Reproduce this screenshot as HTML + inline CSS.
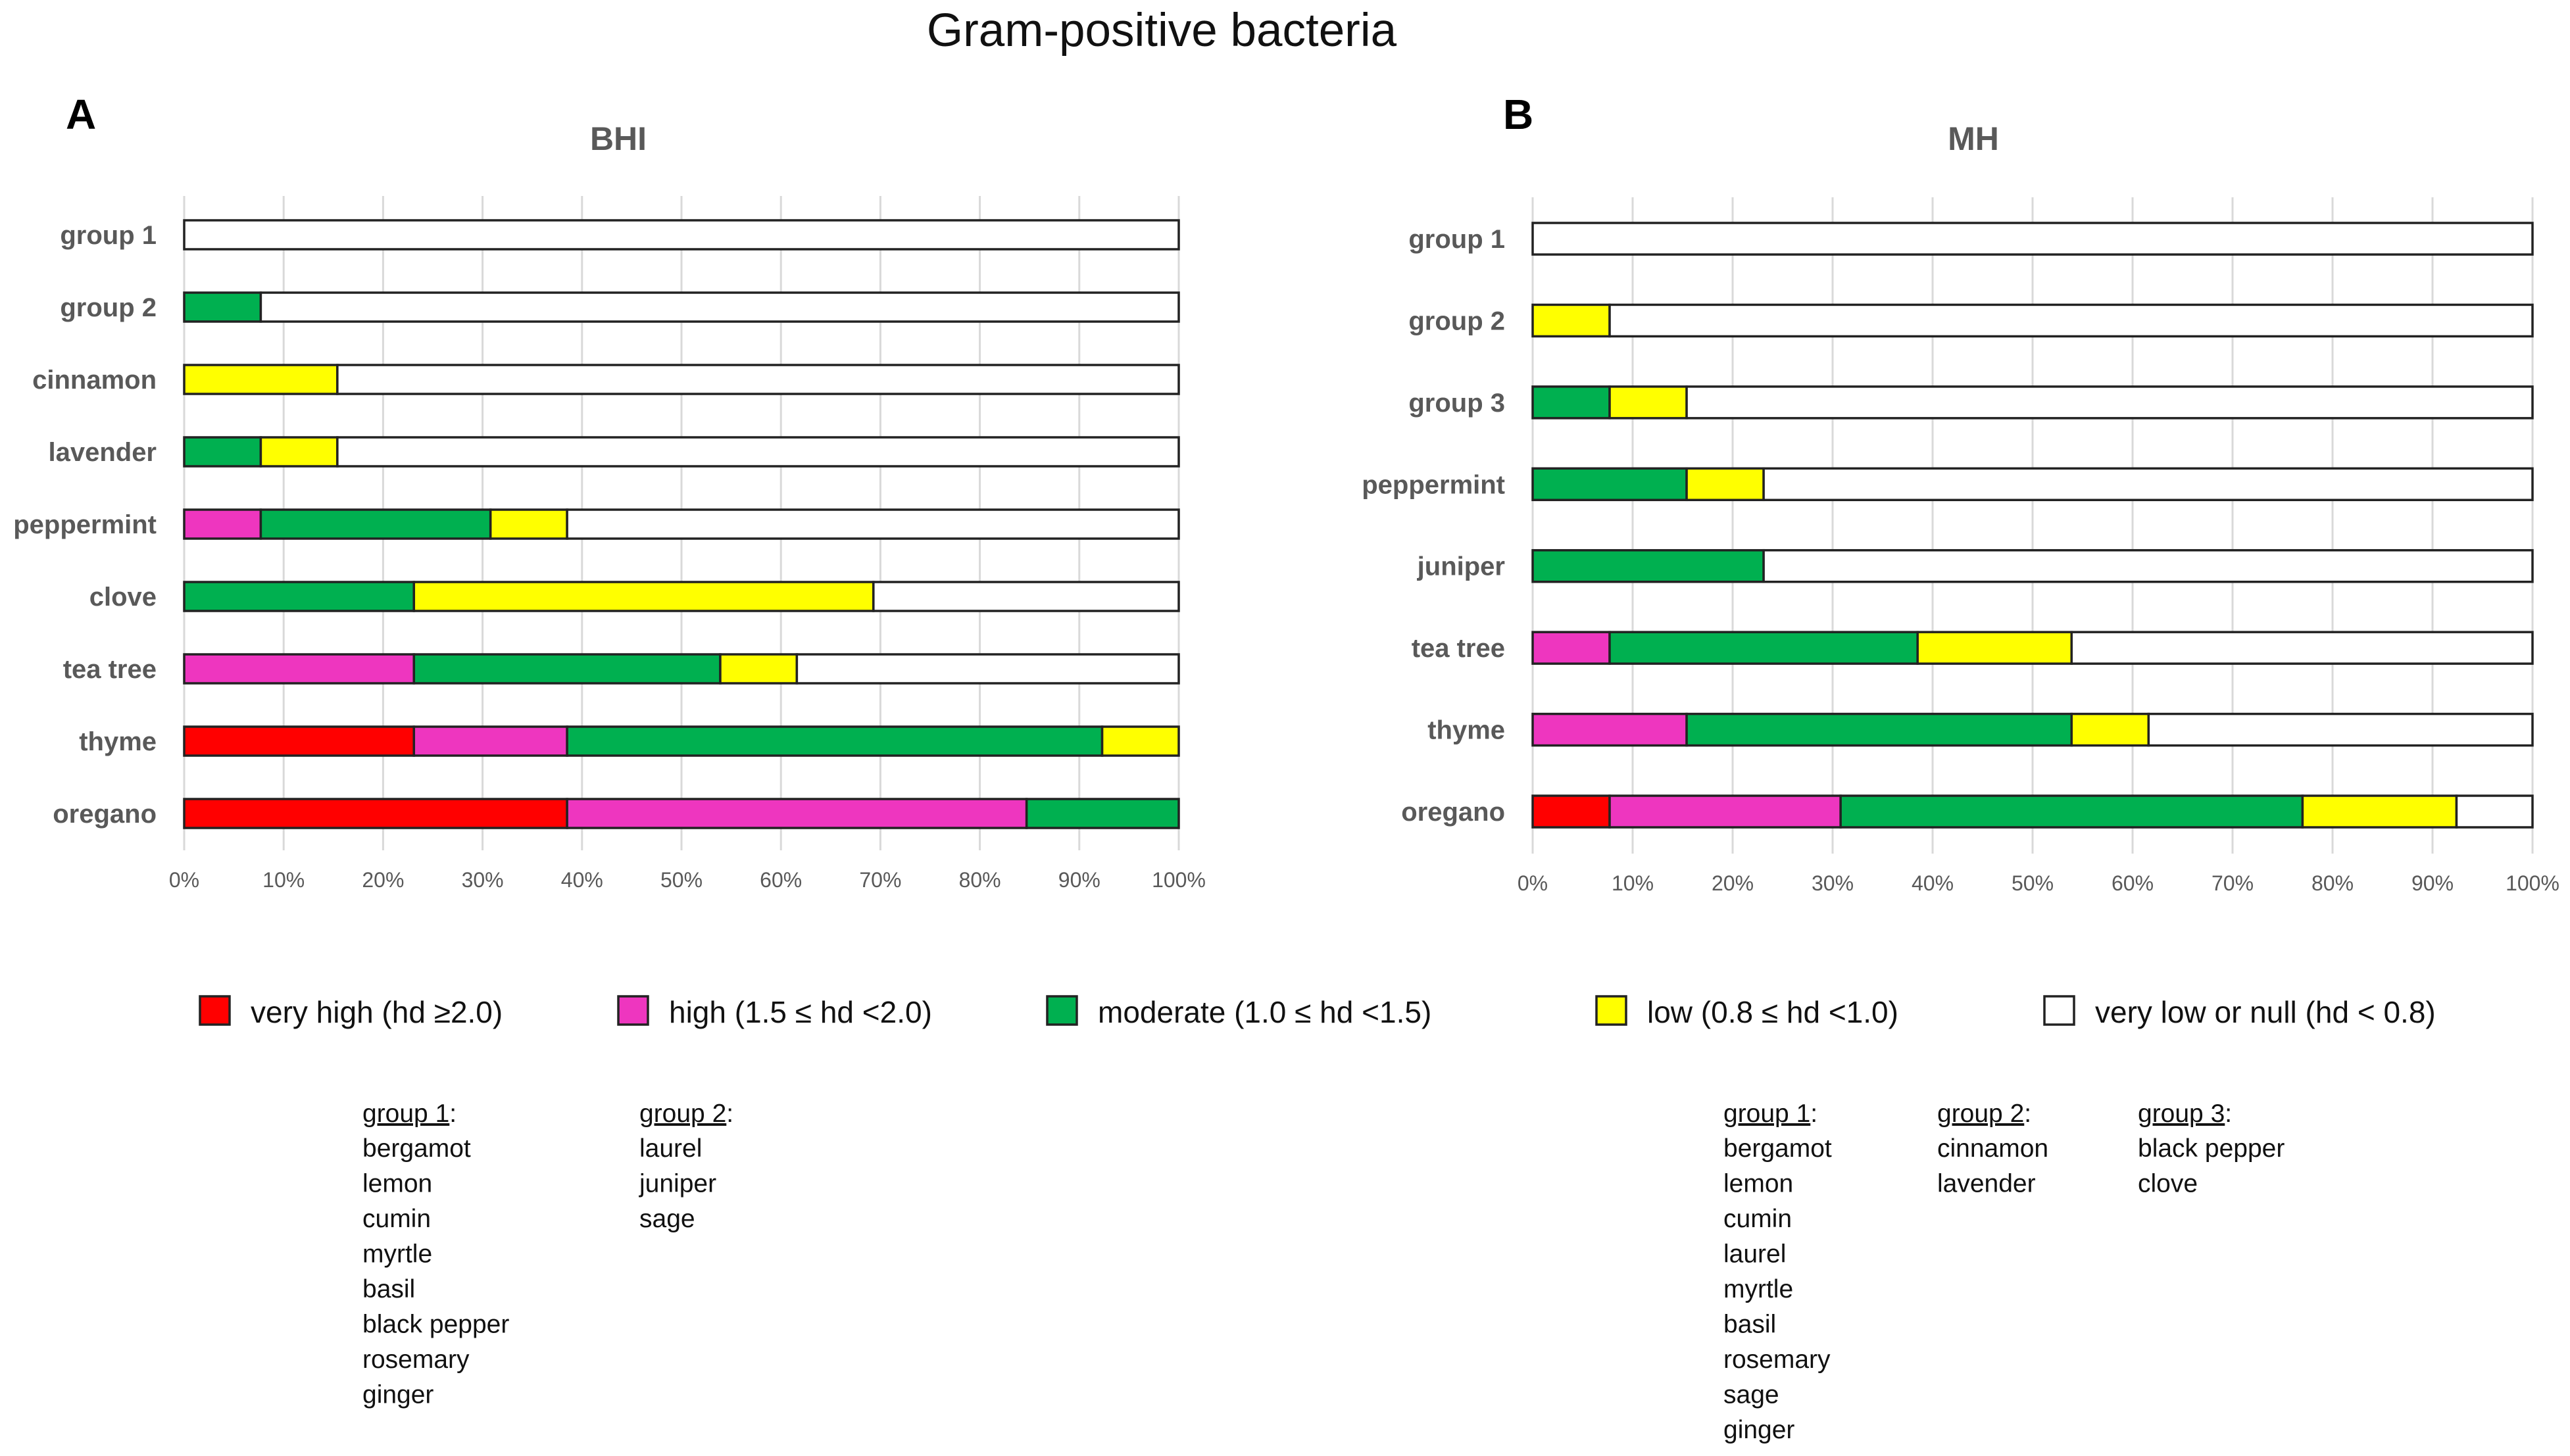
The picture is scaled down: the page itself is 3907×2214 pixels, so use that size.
<!DOCTYPE html>
<html><head><meta charset="utf-8">
<style>
html,body{margin:0;padding:0;background:#fff;}
svg{display:block;font-family:"Liberation Sans",sans-serif;}
</style></head>
<body>
<svg id="chart" width="3907" height="2214" viewBox="0 0 3907 2214" xmlns="http://www.w3.org/2000/svg">
<rect width="3907" height="2214" fill="#fff"/>
<text x="1766" y="70" font-size="71" text-anchor="middle" fill="#111">Gram-positive bacteria</text>
<text x="100" y="196" font-size="64" font-weight="bold" fill="#000">A</text>
<text x="2285" y="196" font-size="64" font-weight="bold" fill="#000">B</text>
<text x="940" y="228" font-size="50" font-weight="bold" text-anchor="middle" fill="#595959">BHI</text>
<text x="3000" y="228" font-size="50" font-weight="bold" text-anchor="middle" fill="#595959">MH</text>
<g id="plots"></g>
<g id="legend"></g>
<g id="notes" font-size="39" fill="#111"></g>
</svg>
<script>
const seriesNames = ["very high (hd \u22652.0)","high (1.5 \u2264 hd <2.0)","moderate (1.0 \u2264 hd <1.5)","low (0.8 \u2264 hd <1.0)","very low or null (hd < 0.8)"];
const seriesColors = ["#ff0000","#ee36bf","#00b050","#ffff00","#ffffff"];
const tickLabels = ["0%","10%","20%","30%","40%","50%","60%","70%","80%","90%","100%"];
const bhiCategories = ["group 1","group 2","cinnamon","lavender","peppermint","clove","tea tree","thyme","oregano"];
const bhiVeryHigh = [0,0,0,0,0,0,0,23.1,38.5];
const bhiHigh     = [0,0,0,0,7.7,0,23.1,15.4,46.2];
const bhiModerate = [0,7.7,0,7.7,23.1,23.1,30.8,53.8,15.3];
const bhiLow      = [0,0,15.4,7.7,7.7,46.2,7.7,7.7,0];
const bhiVeryLow  = [100,92.3,84.6,84.6,61.5,30.7,38.4,0,0];
const mhCategories = ["group 1","group 2","group 3","peppermint","juniper","tea tree","thyme","oregano"];
const mhVeryHigh = [0,0,0,0,0,0,0,7.7];
const mhHigh     = [0,0,0,0,0,7.7,15.4,23.1];
const mhModerate = [0,0,7.7,15.4,23.1,30.8,38.5,46.2];
const mhLow      = [0,7.7,7.7,7.7,0,15.4,7.7,15.4];
const mhVeryLow  = [100,92.3,84.6,76.9,76.9,46.1,38.4,7.6];

const NS="http://www.w3.org/2000/svg";
function mk(tag,attrs,parent){const e=document.createElementNS(NS,tag);for(const k in attrs)e.setAttribute(k,attrs[k]);parent.appendChild(e);return e;}

function drawPanel(p){
  const g=mk('g',{},document.getElementById('plots'));
  
  
  const xs=v=>p.x0+(p.x1-p.x0)*v/100;
  const n=p.cats.length;
  const step=(p.cLast-p.cFirst)/(n-1);
  const ys=i=>p.cFirst+i*step;
  tickLabels.forEach((t,i)=>{
    const v=i*10;
    const gl=mk('line',{x1:xs(v),x2:xs(v),y1:p.gTop,y2:p.gBot,stroke:'#d9d9d9','stroke-width':3},g);
    
    
    const tl=mk('text',{x:xs(v),y:p.gBot+56,'font-size':32,'text-anchor':'middle',fill:'#595959'},g);
    tl.textContent=t;
    
    
  });
  const series=p.series;
  p.cats.forEach((c,i)=>{
    const cy=ys(i);
    const lab=mk('text',{x:p.x0-42,y:cy+14,'font-size':40,'font-weight':'bold','text-anchor':'end',fill:'#595959'},g);
    lab.textContent=c;
    
    
    let acc=0;
    series.forEach((s,k)=>{
      const v=s[i];
      if(v<=0)return;
      const r=mk('rect',{x:xs(acc),y:cy-p.bh/2,width:xs(acc+v)-xs(acc),height:p.bh,fill:seriesColors[k],stroke:'#222','stroke-width':3.5},g);
      
      
      acc+=v;
    });
  });
}
drawPanel({name:'bhi-plot',x0:280,x1:1792,gTop:298,gBot:1293,cFirst:357,cLast:1237,bh:44,cats:bhiCategories,series:[bhiVeryHigh,bhiHigh,bhiModerate,bhiLow,bhiVeryLow]});
drawPanel({name:'mh-plot',x0:2330,x1:3850,gTop:300,gBot:1298,cFirst:363,cLast:1234,bh:48,cats:mhCategories,series:[mhVeryHigh,mhHigh,mhModerate,mhLow,mhVeryLow]});

const legX=[304,940,1592,2427,3108];
const lg=document.getElementById('legend');
seriesNames.forEach((s,k)=>{
  const r=mk('rect',{x:legX[k],y:1515,width:45,height:43,fill:seriesColors[k],stroke:'#222','stroke-width':3.5},lg);
  
  
  const t=mk('text',{x:legX[k]+77,y:1555,'font-size':46,fill:'#111'},lg);
  t.textContent=s;
  
  
});

const noteCols=[
 {x:551,head:"group 1",items:["bergamot","lemon","cumin","myrtle","basil","black pepper","rosemary","ginger"]},
 {x:972,head:"group 2",items:["laurel","juniper","sage"]},
 {x:2620,head:"group 1",items:["bergamot","lemon","cumin","laurel","myrtle","basil","rosemary","sage","ginger"]},
 {x:2945,head:"group 2",items:["cinnamon","lavender"]},
 {x:3250,head:"group 3",items:["black pepper","clove"]}
];
const ng=document.getElementById('notes');
noteCols.forEach(col=>{
  const h=mk('text',{x:col.x,y:1706},ng);
  const u=mk('tspan',{'text-decoration':'underline'},h); u.textContent=col.head;
  const c=mk('tspan',{},h); c.textContent=":";
  
  
  col.items.forEach((it,i)=>{
    const t=mk('text',{x:col.x,y:1759+i*53.5},ng);
    t.textContent=it;
    
    
  });
});
</script>
</body></html>
